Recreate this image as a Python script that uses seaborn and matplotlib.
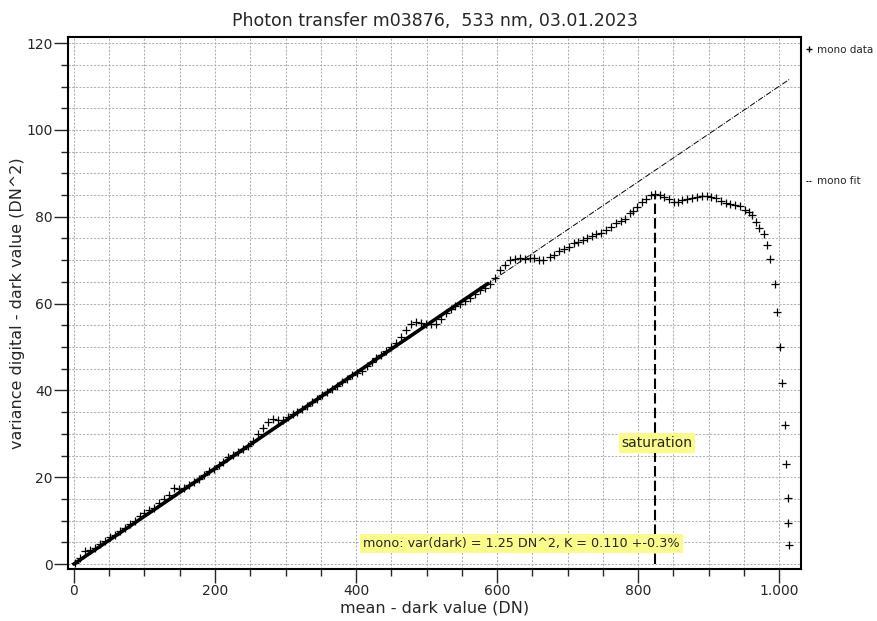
import numpy as np
import pandas as pd
import matplotlib
matplotlib.use("Agg")
import matplotlib.pyplot as plt
import seaborn as sns
from matplotlib.ticker import MultipleLocator, FuncFormatter
from matplotlib.lines import Line2D

# measured points (mean - dark, variance - dark)
mean_dn = [2, 9, 16, 23, 30, 37, 44, 51, 58, 65, 72, 79, 86, 93, 100, 107, 114, 121, 128, 135,
           142, 149, 156, 163, 170, 177, 184, 191, 198, 205, 212, 219, 226, 233, 240, 247, 254,
           261, 268, 275, 282, 289, 296, 303, 310, 317, 324, 331, 338, 345, 352, 359, 366, 373,
           380, 387, 394, 401, 408, 415, 422, 429, 436, 443, 450, 457, 464, 471, 478, 485, 492,
           499, 506, 513, 520, 527, 534, 541, 548, 555, 562, 569, 576, 583, 590, 597, 604, 611,
           618, 625, 632, 639, 646, 652, 659, 665, 675, 681, 688, 695, 702, 709, 715, 722, 728,
           734, 741, 748, 755, 762, 769, 776, 781, 788, 793, 798, 805, 811, 818, 824, 831, 837,
           844, 851, 856, 862, 869, 876, 883, 890, 897, 904, 910, 917, 924, 931, 937, 944, 952,
           957, 962, 967, 972, 979, 982.5, 987, 994, 997.6, 1001, 1004.7, 1008.5, 1010, 1012,
           1013, 1014.6]
var_dn = [0.3, 1.3, 2.9, 3.2, 3.8, 4.5, 5.3, 6.2, 6.8, 7.5, 8.3, 9.2, 10.0, 11.0, 11.8, 12.4,
          13.0, 14.0, 14.9, 15.9, 17.6, 17.3, 17.5, 18.2, 18.9, 19.6, 20.4, 21.4, 22.0, 22.7,
          23.6, 24.6, 25.1, 25.8, 26.6, 27.3, 28.3, 29.9, 31.4, 32.7, 33.4, 33.1, 33.2, 33.8,
          34.5, 35.0, 35.7, 36.5, 37.4, 38.0, 38.9, 39.6, 40.4, 41.1, 41.9, 42.7, 43.5, 44.1,
          44.5, 45.7, 46.6, 47.4, 48.2, 49.0, 50.0, 51.0, 52.4, 54.0, 55.2, 55.8, 55.5, 55.4,
          55.2, 55.4, 56.4, 57.8, 58.7, 59.4, 59.9, 60.5, 61.2, 62.2, 63.2, 63.6, 64.5, 65.8,
          67.7, 68.9, 70.0, 70.3, 70.4, 70.2, 70.5, 70.4, 70.0, 70.0, 70.8, 71.2, 72.0, 72.5,
          73.1, 74.0, 74.2, 74.6, 75.0, 75.5, 76.0, 76.3, 76.9, 77.7, 78.5, 79.1, 79.4, 80.8,
          81.4, 82.2, 83.5, 84.2, 85.0, 85.2, 85.0, 84.6, 84.0, 83.5, 83.3, 83.8, 84.1, 84.3,
          84.5, 84.7, 84.7, 84.5, 84.3, 83.7, 83.2, 82.9, 82.7, 82.5, 81.5, 81.1, 80.3, 78.8,
          77.3, 76.1, 73.6, 70.2, 64.5, 58.1, 50.0, 41.8, 32.0, 23.0, 15.1, 9.4, 4.4]

# fit line endpoints (full range and fitted range)
fit_x = [0, 1015]
fit_y = [0.0, 111.7]
fit_range_x = [0, 587]
fit_range_y = [0.0, 64.6]

sat_x = 824
sat_y = 85.2

title = "Photon transfer m03876,  533 nm, 03.01.2023"
info_text = "mono: var(dark) = 1.25 DN^2, K = 0.110 +-0.3%"

df = pd.DataFrame({"mean": mean_dn, "var": var_dn})

sns.set_style("white")
plt.rcParams["font.family"] = ["DejaVu Sans"]

fig = plt.figure(figsize=(8.78, 6.21), dpi=100)
ax = fig.add_axes([0.0774, 0.0837, 0.8349, 0.8567])

# grid
ax.xaxis.set_major_locator(MultipleLocator(200))
ax.xaxis.set_minor_locator(MultipleLocator(50))
ax.yaxis.set_major_locator(MultipleLocator(20))
ax.yaxis.set_minor_locator(MultipleLocator(5))
ax.grid(True, which="both", color="#b0b0b0", linestyle=(0, (2, 1.5)), linewidth=0.75)
ax.set_axisbelow(True)

# fit
sns.lineplot(x=fit_x, y=fit_y, ax=ax, color="black", linewidth=0.7,
             linestyle=(0, (6, 1.5, 1, 1.5)))
sns.lineplot(x=fit_range_x, y=fit_range_y, ax=ax, color="black", linewidth=2.6)

# data
sns.scatterplot(data=df, x="mean", y="var", ax=ax, marker="+", color="black",
                s=28, linewidth=0.9)

# saturation marker
ax.plot([sat_x, sat_x], [0, sat_y], color="black", linewidth=1.5, linestyle=(0, (5, 2)))
ax.text(sat_x + 3, 27.9, "saturation", ha="center", va="center", fontsize=10,
        bbox=dict(facecolor="#fbfb8c", edgecolor="none", pad=2))
ax.text(410, 4.8, info_text, ha="left", va="center", fontsize=9.2,
        bbox=dict(facecolor="#fbfb8c", edgecolor="none", pad=2))

ax.set_xlim(-8.5, 1031)
ax.set_ylim(-1.15, 121.4)

ax.xaxis.set_major_formatter(FuncFormatter(lambda v, p: f"{int(v):,}".replace(",", ".")))
ax.tick_params(axis="both", which="major", direction="out", length=10, width=1,
               labelsize=10, pad=0.8, bottom=True, left=True)
ax.tick_params(axis="both", which="minor", direction="out", length=5, width=1,
               bottom=True, left=True)
for s in ax.spines.values():
    s.set_color("black")
    s.set_linewidth(1.5)

ax.set_xlabel("mean - dark value (DN)", fontsize=11.5)
ax.set_ylabel("variance digital - dark value (DN^2)", fontsize=11.5)
ax.xaxis.set_label_coords(0.5, -0.06)
ax.yaxis.set_label_coords(-0.058, 0.5)
ax.set_title(title, fontsize=12.5, pad=8)

# legends outside on the right
h_data = [Line2D([], [], marker="+", color="black", linestyle="none", markersize=5)]
h_fit = [Line2D([], [], color="black", linewidth=0.7, linestyle=(0, (2, 1)))]
leg1 = ax.legend(h_data, ["mono data"], loc="center left", bbox_to_anchor=(1.0, 0.976),
                 frameon=False, fontsize=7.5, handlelength=0.6, handletextpad=0.4,
                 borderaxespad=0, borderpad=0.5)
ax.add_artist(leg1)
ax.legend(h_fit, ["mono fit"], loc="center left", bbox_to_anchor=(1.0, 0.729),
          frameon=False, fontsize=7.5, handlelength=0.6, handletextpad=0.4,
          borderaxespad=0, borderpad=0.5)

fig.savefig("out.png", dpi=100)
